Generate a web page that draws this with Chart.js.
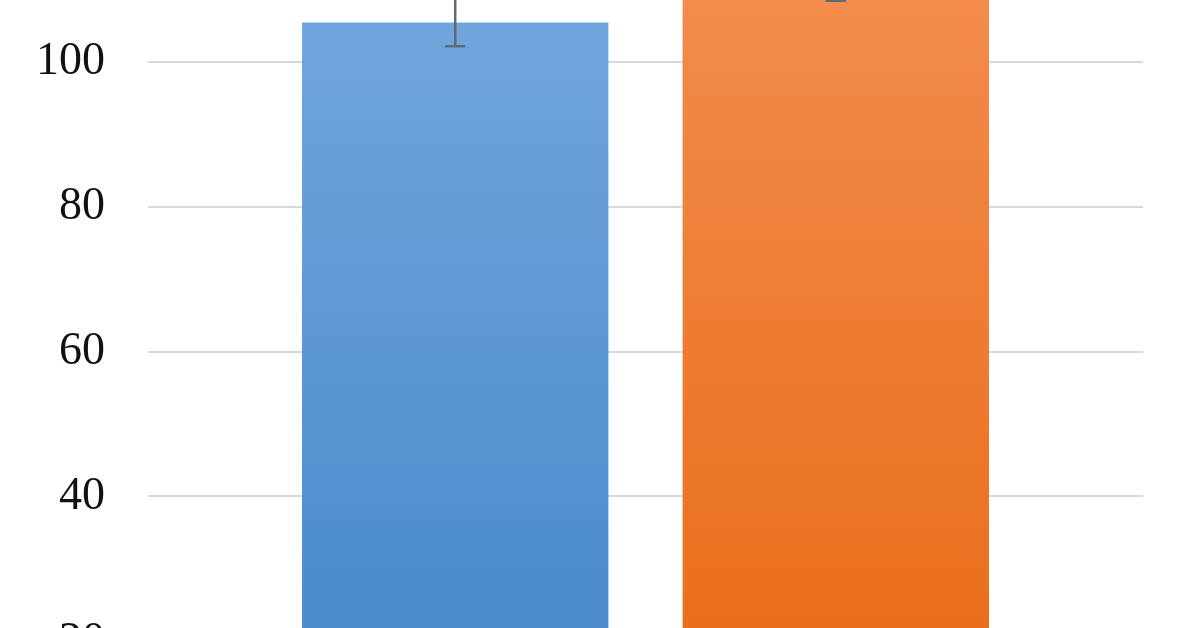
<!DOCTYPE html>
<html>
<head>
<meta charset="utf-8">
<script src="https://cdn.jsdelivr.net/npm/chart.js@4"></script>
<style>
  html, body { margin: 0; padding: 0; background: #fff; overflow: hidden; }
  #frame { position: relative; width: 1196px; height: 628px; overflow: hidden; }
  /* the reference is a crop of a taller chart, so the canvas runs past the window
     (the y axis keeps ~71px of label padding above and below the plot) */
  #wrap { position: absolute; left: 0; top: -154px; width: 1196px; height: 1011px; }
</style>
</head>
<body>
<div id="frame">
  <div id="wrap"><canvas id="barChart"></canvas></div>
</div>
<script>
const categories = [''];
const seriesNames = ['Series 1', 'Series 2'];
const means = [105.4, 112.0];
const errors = [3.3, 3.6];
const yTicks = [0, 20, 40, 60, 80, 100, 120];

const topColors = ['#72a6de', '#f28b4c'];
const bottomColors = ['#4a8bcc', '#e96f1c'];

function barGradient(ctx, i) {
    const area = ctx.chart.chartArea;
    if (!area) return topColors[i];
    const g = ctx.chart.ctx.createLinearGradient(0, area.top, 0, area.bottom);
    g.addColorStop(0.1, topColors[i]);
    g.addColorStop(0.82, bottomColors[i]);
    g.addColorStop(1, bottomColors[i]);
    return g;
}

// simple error bars drawn on top of each bar
const errorBars = {
    id: 'errorBars',
    afterDatasetsDraw(chart) {
        const c = chart.ctx;
        const y = chart.scales.y;
        c.save();
        c.strokeStyle = '#5b6b7b';
        c.lineWidth = 2.5;
        chart.data.datasets.forEach((ds, i) => {
            const bar = chart.getDatasetMeta(i).data[0];
            const hi = y.getPixelForValue(means[i] + errors[i]);
            const lo = y.getPixelForValue(means[i] - errors[i]);
            c.beginPath();
            c.moveTo(bar.x, hi); c.lineTo(bar.x, lo);
            c.moveTo(bar.x - 10, hi); c.lineTo(bar.x + 10, hi);
            c.moveTo(bar.x - 10, lo); c.lineTo(bar.x + 10, lo);
            c.stroke();
        });
        c.restore();
    }
};

const ctx = document.getElementById('barChart').getContext('2d');
const barChart = new Chart(ctx, {
    type: 'bar',
    data: {
        labels: categories,
        datasets: seriesNames.map((name, i) => ({
            label: name,
            data: [means[i]],
            backgroundColor: c => barGradient(c, i),
            borderWidth: 0,
            categoryPercentage: 0.765,
            barPercentage: 0.805
        }))
    },
    options: {
        responsive: true,
        maintainAspectRatio: false,
        animation: false,
        layout: { autoPadding: false, padding: { left: 0, right: 53, top: 0, bottom: 0 } },
        scales: {
            x: { display: false },
            y: {
                min: yTicks[0],
                max: yTicks[yTicks.length - 1],
                afterBuildTicks: s => { s.ticks = yTicks.map(v => ({ value: v })); },
                afterFit: s => { s.width = 148; },
                border: { display: false },
                grid: { color: '#d9d9d9', lineWidth: 2, drawTicks: false },
                ticks: {
                    padding: 43,
                    color: '#111',
                    font: { family: 'Liberation Serif', size: 46 }
                }
            }
        },
        plugins: {
            legend: { display: false },
            tooltip: { enabled: false }
        }
    },
    plugins: [errorBars]
});
</script>
</body>
</html>
